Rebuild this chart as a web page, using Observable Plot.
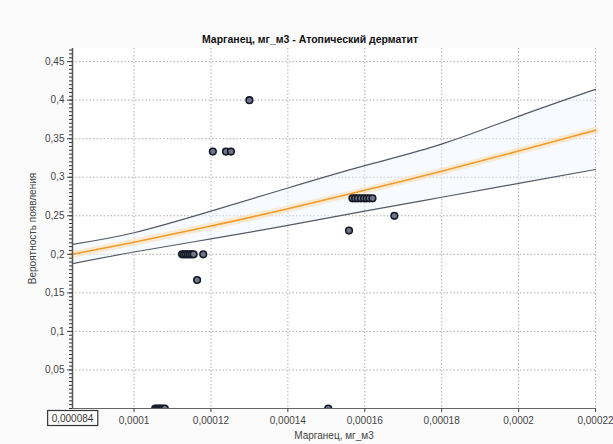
<!DOCTYPE html>
<html>
<head>
<meta charset="utf-8">
<script src="https://cdn.jsdelivr.net/npm/d3@7"></script>
<script src="https://cdn.jsdelivr.net/npm/@observablehq/plot@0.6"></script>
<style>
  html, body { margin: 0; padding: 0; background: #fbfbfb; }
  #chart svg { display: block; }
</style>
</head>
<body>
<div id="chart"></div>
<script>
const titleText = "Марганец, мг_м3 - Атопический дерматит";
const xLabel = "Марганец, мг_м3";
const yLabel = "Вероятность появления";
const xTicks = [0.0001, 0.00012, 0.00014, 0.00016, 0.00018, 0.0002, 0.00022];
const xTickLabels = ["0,0001", "0,00012", "0,00014", "0,00016", "0,00018", "0,0002", "0,00022"];
const yTicks = [0.05, 0.1, 0.15, 0.2, 0.25, 0.3, 0.35, 0.4, 0.45];
const yTickLabels = ["0,05", "0,1", "0,15", "0,2", "0,25", "0,3", "0,35", "0,4", "0,45"];
const cursorX = 0.000084;
const cursorLabel = "0,000084";

// observed points
const pointX = [0.00013,
  0.0001205, 0.0001239, 0.0001252,
  0.0001125, 0.000113, 0.0001135, 0.000114, 0.0001145, 0.000115, 0.0001155, 0.000118,
  0.0001164,
  0.0001568, 0.0001575, 0.0001582, 0.000159, 0.0001598, 0.0001605, 0.0001612, 0.000162,
  0.0001559,
  0.0001677,
  0.0001055, 0.000106, 0.0001065, 0.000107, 0.0001075, 0.000108, 0.0001505];
const pointY = [0.4,
  0.3333, 0.3333, 0.3333,
  0.2, 0.2, 0.2, 0.2, 0.2, 0.2, 0.2, 0.2,
  0.1667,
  0.2727, 0.2727, 0.2727, 0.2727, 0.2727, 0.2727, 0.2727, 0.2727,
  0.2308,
  0.25,
  0, 0, 0, 0, 0, 0, 0];

// fitted curve and confidence bounds
const curveX = [0.000084, 0.0001, 0.00012, 0.00014, 0.00016, 0.00018, 0.0002, 0.00022];
const fitY   = [0.2, 0.2157, 0.2368, 0.259, 0.283, 0.3077, 0.334, 0.361];
const upperY = [0.213, 0.228, 0.256, 0.286, 0.315, 0.343, 0.379, 0.414];
const lowerY = [0.188, 0.203, 0.22, 0.2375, 0.256, 0.274, 0.292, 0.31];

const points = pointX.map((x, i) => ({x, y: pointY[i]}));
const curve = curveX.map((x, i) => ({x, fit: fitY[i], up: upperY[i], lo: lowerY[i]}));

const font = "Liberation Sans, Arial, sans-serif";
const xFmt = d => xTickLabels[xTicks.indexOf(d)] ?? "";
const yFmt = d => yTickLabels[yTicks.indexOf(d)] ?? "";
const minorY = d3.range(0, 0.466, 0.005);

const chart = Plot.plot({
  width: 613,
  height: 444,
  marginLeft: 72,
  marginRight: 18,
  marginTop: 48,
  marginBottom: 36,
  style: {fontFamily: font, fontSize: "10px", color: "#444", background: "#fbfbfb"},
  x: {domain: [0.000084, 0.00022], ticks: xTicks},
  y: {domain: [0, 0.467], ticks: yTicks},
  marks: [
    Plot.frame({fill: "#ffffff", stroke: null}),
    Plot.gridX(xTicks, {stroke: "#999", strokeOpacity: 0.8, strokeDasharray: "1.5,2"}),
    Plot.gridY(yTicks, {stroke: "#999", strokeOpacity: 0.8, strokeDasharray: "1.5,2"}),
    Plot.areaY(curve, {x: "x", y1: "lo", y2: "up", fill: "#eef6ff", fillOpacity: 0.45, curve: "natural"}),
    Plot.lineY(curve, {x: "x", y: "fit", stroke: "#ffdcae", strokeWidth: 7, strokeOpacity: 0.55, curve: "natural"}),
    Plot.lineY(curve, {x: "x", y: "up", stroke: "#555a66", strokeWidth: 1.2, curve: "natural"}),
    Plot.lineY(curve, {x: "x", y: "lo", stroke: "#555a66", strokeWidth: 1.2, curve: "natural"}),
    Plot.lineY(curve, {x: "x", y: "fit", stroke: "#f29b2a", strokeWidth: 1.6, curve: "natural"}),
    Plot.dot(points, {x: "x", y: "y", r: 3.3, fill: "#6f768a", stroke: "#141724", strokeWidth: 1.6, clip: true}),
    Plot.ruleY([0], {stroke: "#666", strokeWidth: 1.2}),
    Plot.ruleX([0.000084], {stroke: "#555", strokeWidth: 1.5}),
    Plot.axisY(minorY, {tickSize: 3, tickFormat: () => "", stroke: "#333", label: null}),
    Plot.axisY(yTicks, {tickSize: 5, tickFormat: yFmt, tickPadding: 3, fill: "#444",
      label: yLabel, labelAnchor: "center", labelArrow: "none", labelOffset: 44}),
    Plot.axisX(xTicks, {tickSize: 4, tickFormat: xFmt, tickPadding: 4, fill: "#444",
      label: xLabel, labelAnchor: "center", labelArrow: "none", labelOffset: 30}),
    Plot.text([cursorLabel], {x: [cursorX], frameAnchor: "bottom", dy: 13, text: d => d,
      fill: "#333", fontSize: 10, className: "cursor-label"}),
    Plot.text([titleText], {frameAnchor: "top", dx: -24, dy: -13, text: d => d,
      fontWeight: "bold", fontSize: 10.5, fill: "#111"})
  ]
});

document.getElementById("chart").appendChild(chart);

// box around the cursor label
const lab = chart.querySelector(".cursor-label text");
if (lab) {
  const bb = lab.getBBox();
  const rect = document.createElementNS("http://www.w3.org/2000/svg", "rect");
  rect.setAttribute("x", bb.x - 4);
  rect.setAttribute("y", bb.y - 2);
  rect.setAttribute("width", bb.width + 8);
  rect.setAttribute("height", bb.height + 4);
  rect.setAttribute("fill", "#ffffff");
  rect.setAttribute("stroke", "#333");
  rect.setAttribute("stroke-width", "1.2");
  const tf = lab.getAttribute("transform");
  if (tf) rect.setAttribute("transform", tf);
  lab.parentNode.insertBefore(rect, lab);
}
</script>
</body>
</html>
